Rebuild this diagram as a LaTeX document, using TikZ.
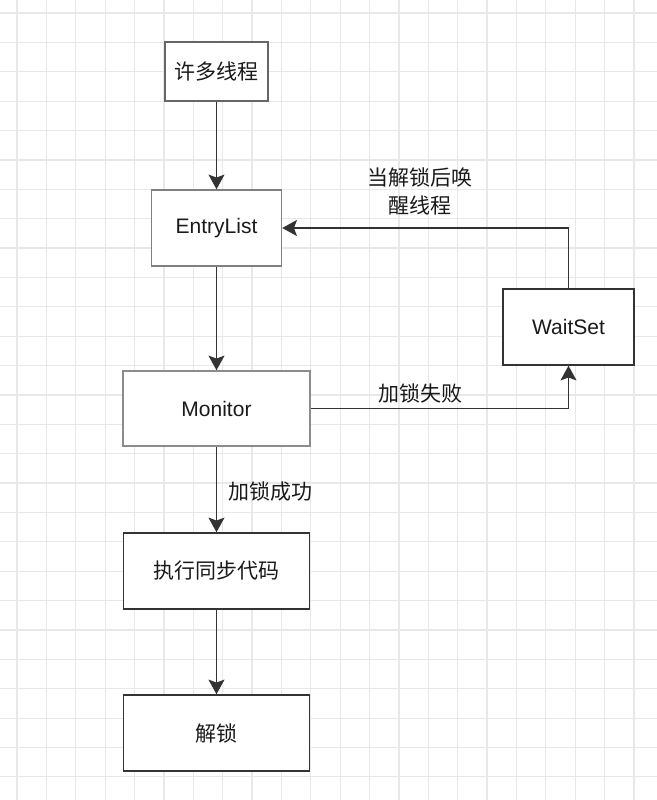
\documentclass[tikz,border=0pt]{standalone}
\usepackage{fontspec}
\setmainfont{Liberation Sans}
\newfontfamily\cjk{Noto Sans CJK SC}
\usetikzlibrary{arrows.meta}
\definecolor{gridc}{HTML}{E8E8E8}
\definecolor{txt}{HTML}{1A1A1A}
\definecolor{lnc}{HTML}{333333}
\begin{document}
\begin{tikzpicture}[x=0.75pt,y=-0.75pt,
  box/.style={draw=#1, line width=1.1pt, fill=white, inner sep=0pt, text=txt, font=\fontsize{15.75pt}{19pt}\selectfont},
  arr/.style={draw=lnc, line width=1.1pt, -{Stealth[length=11pt,width=12pt,inset=2.2pt]}},
  lbl/.style={text=txt, inner sep=0pt, font=\cjk\fontsize{15.75pt}{21pt}\selectfont, align=center}]
\useasboundingbox (0,0) rectangle (657,800);
\fill[white] (0,0) rectangle (657,800);
\foreach \i in {0,...,22} {
  \draw[gridc, line width=0.9pt] ({17+29.38*\i},0) -- ({17+29.38*\i},800);
}
\foreach \j in {0,...,27} {
  \draw[gridc, line width=0.9pt] (0,{13+29.38*\j}) -- (657,{13+29.38*\j});
}
\node[box=black!60, minimum width=77.25pt, minimum height=44.25pt] (n1) at (216.5,71.5) {\cjk 许多线程};
\node[box=black!50, minimum width=97.5pt, minimum height=57pt] (n2) at (216.5,228) {EntryList};
\node[box=black!45, minimum width=140.25pt, minimum height=56.25pt] (n3) at (216.5,408.5) {Monitor};
\node[box=lnc, minimum width=98.25pt, minimum height=57pt] (n4) at (568.5,327) {WaitSet};
\node[box=lnc, minimum width=139.5pt, minimum height=57pt] (n5) at (216.5,571) {\cjk 执行同步代码};
\node[box=lnc, minimum width=139.5pt, minimum height=57pt] (n6) at (216.5,733) {\cjk 解锁};

\draw[arr] (n1.south) -- (n2.north);
\draw[arr] (n2.south) -- (n3.north);
\draw[arr] (n3.east) -| (n4.south);
\draw[arr] (n4.north) |- (n2.east);
\draw[arr] (n3.south) -- (n5.north);
\draw[arr] (n5.south) -- (n6.north);

\node[lbl] (l1) at (420,393) {加锁失败};
\node[lbl] (l2) at (420,191) {当解锁后唤\\醒线程};
\node[lbl] (l3) at (270.5,492) {加锁成功};
\end{tikzpicture}
\end{document}
